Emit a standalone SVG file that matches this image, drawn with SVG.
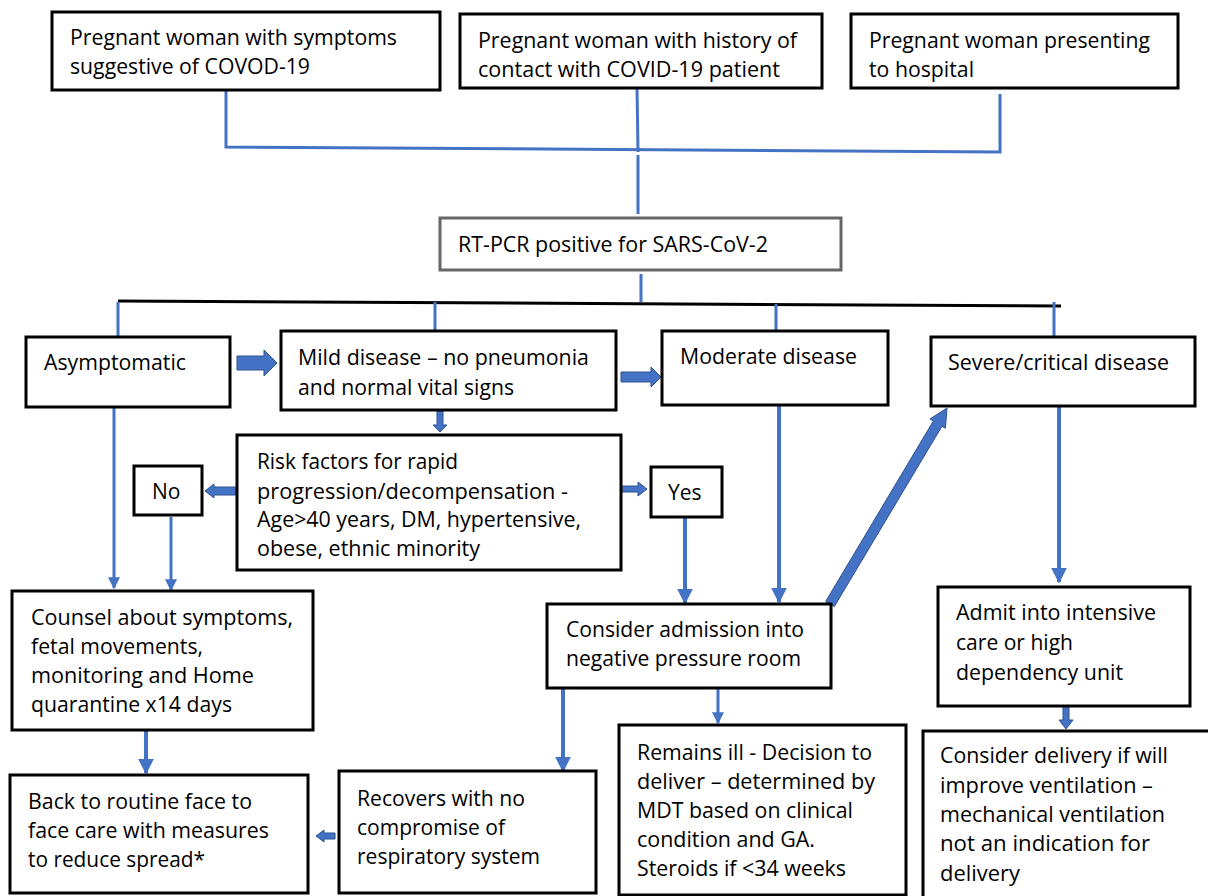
<svg xmlns="http://www.w3.org/2000/svg" width="1208" height="896" viewBox="0 0 1208 896">
<style>
.box{fill:#fff;stroke:#000;stroke-width:3}
.gbox{fill:#fff;stroke:#666;stroke-width:3}
.t{font-family:"Open Sans","Liberation Sans",sans-serif;font-size:21px;fill:#000}
.ln{stroke:#4472C4;stroke-width:3;fill:none}
.lk{stroke:#000;stroke-width:3;fill:none}
.ba{fill:#4472C4;stroke:#2F528F;stroke-width:1}
</style>
<defs>
<marker id="ah" viewBox="0 0 10 10" refX="9" refY="5" markerWidth="4" markerHeight="4" orient="auto" markerUnits="strokeWidth">
<path d="M0,0 L10,5 L0,10 z" fill="#4472C4"/>
</marker>
</defs>
<g id="connectors">
<polyline class="ln" points="226,90 226,147 1000,152 1000,94"/>
<line class="ln" x1="637" y1="88" x2="638" y2="152"/>
<line class="ln" x1="638" y1="155" x2="638" y2="214"/>
<line class="ln" x1="641" y1="274" x2="641" y2="302"/>
<line class="lk" x1="118" y1="301" x2="1061" y2="306"/>
<line class="ln" x1="118" y1="302" x2="118" y2="336"/>
<line class="ln" x1="435" y1="302" x2="435" y2="330"/>
<line class="ln" x1="776" y1="304" x2="776" y2="331"/>
<line class="ln" x1="1054" y1="302" x2="1054" y2="337"/>
<line class="ln" x1="114" y1="407" x2="114" y2="588" marker-end="url(#ah)"/>
<line class="ln" x1="171" y1="517" x2="171" y2="590" marker-end="url(#ah)"/>
<line class="ln" x1="146" y1="730" x2="146" y2="773" marker-end="url(#ah)" style="stroke-width:4"/>
<line class="ln" x1="685" y1="517" x2="685" y2="603" marker-end="url(#ah)" style="stroke-width:4"/>
<line class="ln" x1="779" y1="405" x2="779" y2="602" marker-end="url(#ah)" style="stroke-width:4"/>
<line class="ln" x1="1059" y1="406" x2="1059" y2="582" marker-end="url(#ah)" style="stroke-width:4"/>
<line class="ln" x1="563" y1="688" x2="563" y2="771" marker-end="url(#ah)" style="stroke-width:4"/>
<line class="ln" x1="718" y1="688" x2="718" y2="723" marker-end="url(#ah)"/>
<polygon class="ba" points="237,356 264,356 264,350 277,363 264,376 264,370 237,370"/>
<polygon class="ba" points="621,372 651,372 651,367 661,377 651,387 651,382 621,382"/>
<polygon class="ba" points="236,487 214,487 214,484 205,491 214,498 214,495 236,495"/>
<polygon class="ba" points="619,486 638,486 638,482 647,489 638,496 638,492 619,492"/>
<polygon class="ba" points="437,410 443,410 443,425 447,425 440,432 433,425 437,425"/>
<polygon class="ba" points="335,833 324,833 324,830 316,836 324,842 324,839 335,839"/>
<polygon class="ba" points="1063,706 1069,706 1069,720 1073,720 1066,729 1059,720 1063,720"/>
<polygon class="ba" points="825.7,601.4 933.4,421.0 930.0,419.0 947,408 945.4,428.2 942.0,426.2 834.3,606.6"/>
</g>
<g id="n-symptoms"><rect class="box" x="52" y="12" width="388" height="78"/>
<text class="t" x="70" y="45" textLength="327" lengthAdjust="spacingAndGlyphs">Pregnant woman with symptoms</text>
<text class="t" x="70" y="74" textLength="240" lengthAdjust="spacingAndGlyphs">suggestive of COVOD-19</text></g>
<g id="n-contact"><rect class="box" x="460" y="14" width="362" height="74"/>
<text class="t" x="478" y="48" textLength="319" lengthAdjust="spacingAndGlyphs">Pregnant woman with history of</text>
<text class="t" x="478" y="77" textLength="302" lengthAdjust="spacingAndGlyphs">contact with COVID-19 patient</text></g>
<g id="n-hospital"><rect class="box" x="851" y="14" width="327" height="74"/>
<text class="t" x="869" y="48" textLength="281" lengthAdjust="spacingAndGlyphs">Pregnant woman presenting</text>
<text class="t" x="869" y="77" textLength="105" lengthAdjust="spacingAndGlyphs">to hospital</text></g>
<g id="n-rtpcr"><rect class="gbox" x="440" y="218" width="401" height="52"/>
<text class="t" x="458" y="252" textLength="310" lengthAdjust="spacingAndGlyphs">RT-PCR positive for SARS-CoV-2</text></g>
<g id="n-asymptomatic"><rect class="box" x="26" y="337" width="204" height="70"/>
<text class="t" x="44" y="370" textLength="142" lengthAdjust="spacingAndGlyphs">Asymptomatic</text></g>
<g id="n-mild"><rect class="box" x="281" y="331" width="335" height="79"/>
<text class="t" x="298" y="365" textLength="291" lengthAdjust="spacingAndGlyphs">Mild disease – no pneumonia</text>
<text class="t" x="298" y="395" textLength="216" lengthAdjust="spacingAndGlyphs">and normal vital signs</text></g>
<g id="n-moderate"><rect class="box" x="662" y="331" width="226" height="74"/>
<text class="t" x="680" y="364" textLength="177" lengthAdjust="spacingAndGlyphs">Moderate disease</text></g>
<g id="n-severe"><rect class="box" x="931" y="337" width="264" height="69"/>
<text class="t" x="948" y="370" textLength="221" lengthAdjust="spacingAndGlyphs">Severe/critical disease</text></g>
<g id="n-risk"><rect class="box" x="237" y="435" width="384" height="135"/>
<text class="t" x="257" y="469" textLength="201" lengthAdjust="spacingAndGlyphs">Risk factors for rapid</text>
<text class="t" x="257" y="499" textLength="311" lengthAdjust="spacingAndGlyphs">progression/decompensation -</text>
<text class="t" x="257" y="527" textLength="324" lengthAdjust="spacingAndGlyphs">Age&gt;40 years, DM, hypertensive,</text>
<text class="t" x="257" y="556" textLength="223" lengthAdjust="spacingAndGlyphs">obese, ethnic minority</text></g>
<g id="n-no"><rect class="box" x="134" y="466" width="68" height="49"/>
<text class="t" x="152" y="499">No</text></g>
<g id="n-yes"><rect class="box" x="651" y="467" width="71" height="50"/>
<text class="t" x="668" y="500">Yes</text></g>
<g id="n-counsel"><rect class="box" x="12" y="591" width="301" height="139"/>
<text class="t" x="31" y="625" textLength="262" lengthAdjust="spacingAndGlyphs">Counsel about symptoms,</text>
<text class="t" x="31" y="654" textLength="172" lengthAdjust="spacingAndGlyphs">fetal movements,</text>
<text class="t" x="31" y="683" textLength="223" lengthAdjust="spacingAndGlyphs">monitoring and Home</text>
<text class="t" x="31" y="712" textLength="201" lengthAdjust="spacingAndGlyphs">quarantine x14 days</text></g>
<g id="n-back"><rect class="box" x="10" y="775" width="298" height="118"/>
<text class="t" x="28" y="809" textLength="224" lengthAdjust="spacingAndGlyphs">Back to routine face to</text>
<text class="t" x="28" y="838" textLength="241" lengthAdjust="spacingAndGlyphs">face care with measures</text>
<text class="t" x="28" y="867" textLength="177" lengthAdjust="spacingAndGlyphs">to reduce spread*</text></g>
<g id="n-recovers"><rect class="box" x="339" y="771" width="257" height="122"/>
<text class="t" x="357" y="806" textLength="168" lengthAdjust="spacingAndGlyphs">Recovers with no</text>
<text class="t" x="357" y="835" textLength="148" lengthAdjust="spacingAndGlyphs">compromise of</text>
<text class="t" x="357" y="864" textLength="183" lengthAdjust="spacingAndGlyphs">respiratory system</text></g>
<g id="n-admission"><rect class="box" x="547" y="604" width="284" height="84"/>
<text class="t" x="566" y="637" textLength="238" lengthAdjust="spacingAndGlyphs">Consider admission into</text>
<text class="t" x="566" y="666" textLength="235" lengthAdjust="spacingAndGlyphs">negative pressure room</text></g>
<g id="n-remains"><rect class="box" x="619" y="725" width="287" height="170"/>
<text class="t" x="637" y="760" textLength="235" lengthAdjust="spacingAndGlyphs">Remains ill - Decision to</text>
<text class="t" x="637" y="789" textLength="238" lengthAdjust="spacingAndGlyphs">deliver – determined by</text>
<text class="t" x="637" y="818" textLength="216" lengthAdjust="spacingAndGlyphs">MDT based on clinical</text>
<text class="t" x="637" y="847" textLength="178" lengthAdjust="spacingAndGlyphs">condition and GA.</text>
<text class="t" x="637" y="876" textLength="209" lengthAdjust="spacingAndGlyphs">Steroids if &lt;34 weeks</text></g>
<g id="n-admit"><rect class="box" x="938" y="587" width="252" height="119"/>
<text class="t" x="956" y="620" textLength="200" lengthAdjust="spacingAndGlyphs">Admit into intensive</text>
<text class="t" x="956" y="650" textLength="117" lengthAdjust="spacingAndGlyphs">care or high</text>
<text class="t" x="956" y="680" textLength="167" lengthAdjust="spacingAndGlyphs">dependency unit</text></g>
<g id="n-delivery"><rect class="box" x="923" y="731" width="300" height="180"/>
<text class="t" x="940" y="763" textLength="228" lengthAdjust="spacingAndGlyphs">Consider delivery if will</text>
<text class="t" x="940" y="793" textLength="213" lengthAdjust="spacingAndGlyphs">improve ventilation –</text>
<text class="t" x="940" y="822" textLength="225" lengthAdjust="spacingAndGlyphs">mechanical ventilation</text>
<text class="t" x="940" y="851" textLength="210" lengthAdjust="spacingAndGlyphs">not an indication for</text>
<text class="t" x="940" y="881" textLength="80" lengthAdjust="spacingAndGlyphs">delivery</text></g>
</svg>
